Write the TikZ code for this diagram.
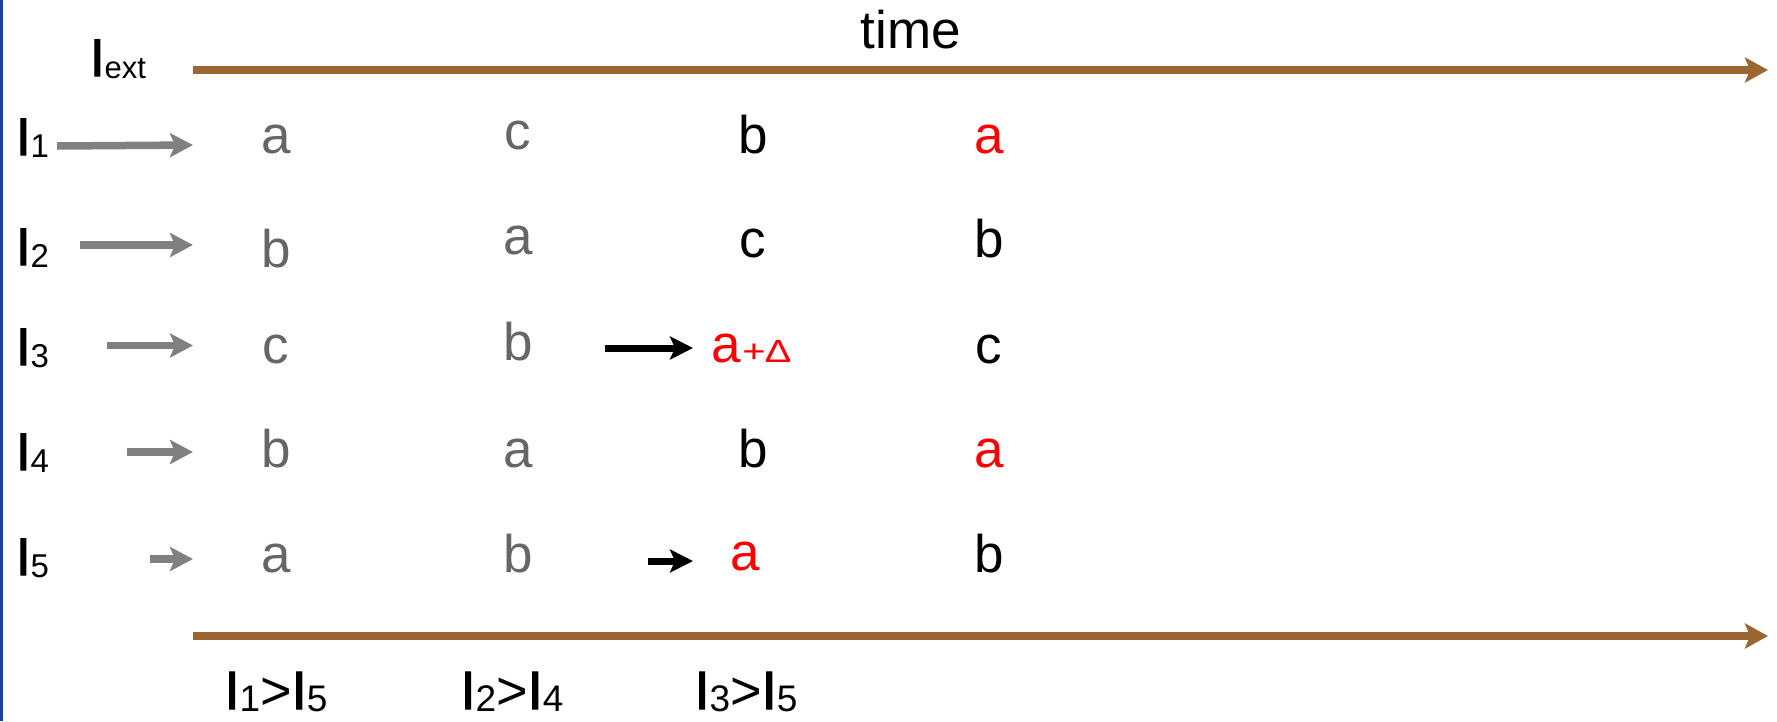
\documentclass[tikz,border=0pt]{standalone}
\usepackage{fontspec}
\setmainfont{Liberation Sans}
\newfontfamily\Ifont[FakeBold=2]{Liberation Sans}
\usetikzlibrary{arrows.meta}
\definecolor{brownarr}{RGB}{156,102,51}
\definecolor{greytxt}{RGB}{102,102,102}
\definecolor{greyarr}{RGB}{128,128,128}
\definecolor{edgeblue}{RGB}{22,66,165}
\definecolor{redtxt}{RGB}{255,0,0}
\newcommand\Isub[2][33]{{\Ifont I}\raisebox{-2pt}{\fontsize{#1}{#1}\selectfont #2}}
\tikzset{
  big/.style={inner sep=0pt, outer sep=0pt, font=\fontsize{53}{60}\selectfont},
  letter/.style={big, anchor=base},
  greyletter/.style={letter, text=greytxt},
  blackletter/.style={letter, text=black},
  redletter/.style={letter, text=redtxt},
  ilabel/.style={big, anchor=base west},
  cmplabel/.style={inner sep=0pt, anchor=base, font=\fontsize{54}{60}\selectfont},
  timeline/.style={draw=brownarr, line width=8pt, -{Stealth[length=23pt,width=25pt,inset=5pt]}},
  greyarrow/.style={draw=greyarr, line width=7.5pt, -{Stealth[length=23pt,width=24pt,inset=5pt]}},
  blackarrow/.style={draw=black, line width=7pt, -{Stealth[length=23pt,width=23pt,inset=5pt]}},
}
\begin{document}
\begin{tikzpicture}[x=1pt,y=-1pt]
\useasboundingbox (0,0) rectangle (1777,721);
\fill[edgeblue] (0,0) rectangle (3,721);

% time axes
\coordinate (tl1) at (193,70);
\coordinate (tr1) at (1768,70);
\coordinate (tl2) at (193,636);
\coordinate (tr2) at (1768,636);
\draw[timeline] (tl1) -- (tr1);
\draw[timeline] (tl2) -- (tr2);
\node[letter] (time) at (911,48) {time};

% current labels
\node[ilabel] (Iext) at (90,76) {\Isub[31]{ext}};
\node[ilabel] (I1) at (16,155) {\Isub{1}};
\node[ilabel] (I2) at (16,265) {\Isub{2}};
\node[ilabel] (I3) at (16,365) {\Isub{3}};
\node[ilabel] (I4) at (16,470) {\Isub{4}};
\node[ilabel] (I5) at (16,575) {\Isub{5}};

% column 1
\node[greyletter] (c1r1) at (276,153) {a};
\node[greyletter] (c1r2) at (276,267) {b};
\node[greyletter] (c1r3) at (276,363) {c};
\node[greyletter] (c1r4) at (276,467) {b};
\node[greyletter] (c1r5) at (276,572) {a};
% column 2
\node[greyletter] (c2r1) at (518,149) {c};
\node[greyletter] (c2r2) at (518,254) {a};
\node[greyletter] (c2r3) at (518,360) {b};
\node[greyletter] (c2r4) at (518,467) {a};
\node[greyletter] (c2r5) at (518,572) {b};
% column 3
\node[blackletter] (c3r1) at (753,153) {b};
\node[blackletter] (c3r2) at (753,257) {c};
\node[redletter, anchor=base west] (c3r3) at (711,362) {a\hspace{2pt}\scalebox{1.25}[1]{\fontsize{32}{32}\selectfont +∆}};
\node[blackletter] (c3r4) at (753,467) {b};
\node[redletter] (c3r5) at (745,570) {a};
% column 4
\node[redletter] (c4r1) at (989,153) {a};
\node[blackletter] (c4r2) at (989,257) {b};
\node[blackletter] (c4r3) at (989,363) {c};
\node[redletter] (c4r4) at (989,467) {a};
\node[blackletter] (c4r5) at (989,572) {b};

% grey input arrows
\coordinate (a1s) at (57,146);  \coordinate (a1e) at (193,145);
\coordinate (a2s) at (80,245);  \coordinate (a2e) at (193,245);
\coordinate (a3s) at (107,345.5); \coordinate (a3e) at (193,345.5);
\coordinate (a4s) at (127,452); \coordinate (a4e) at (193,452);
\coordinate (a5s) at (150,559); \coordinate (a5e) at (193,559);
\draw[greyarrow] (a1s) -- (a1e);
\draw[greyarrow] (a2s) -- (a2e);
\draw[greyarrow] (a3s) -- (a3e);
\draw[greyarrow] (a4s) -- (a4e);
\draw[greyarrow] (a5s) -- (a5e);

% black arrows
\coordinate (b3s) at (605,348); \coordinate (b3e) at (693,348);
\coordinate (b5s) at (648,561); \coordinate (b5e) at (693,561);
\draw[blackarrow] (b3s) -- (b3e);
\draw[blackarrow] (b5s) -- (b5e);

% comparison labels
\node[cmplabel] (cmp1) at (276,709) {\Isub[37]{1}>\Isub[37]{5}};
\node[cmplabel] (cmp2) at (512,709) {\Isub[37]{2}>\Isub[37]{4}};
\node[cmplabel] (cmp3) at (746,709) {\Isub[37]{3}>\Isub[37]{5}};
\end{tikzpicture}
\end{document}
